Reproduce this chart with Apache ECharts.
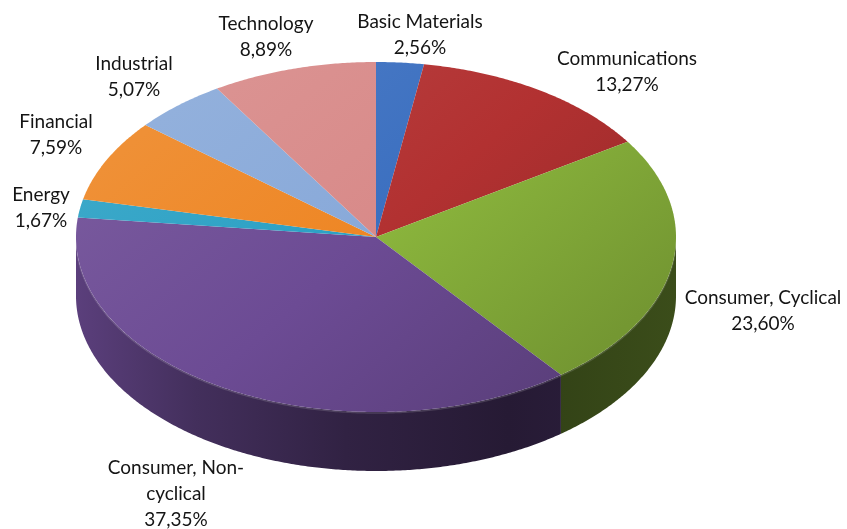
<!DOCTYPE html>
<html><head><meta charset="utf-8">
<script src="https://cdn.jsdelivr.net/npm/echarts@6/dist/echarts.min.js"></script>
<style>html,body{margin:0;padding:0;background:#fff}#c{width:847px;height:529px}</style>
</head><body><div id="c"></div>
<script>
// ---- data ----
const categories = ['Basic Materials','Communications','Consumer, Cyclical','Consumer, Non-cyclical','Energy','Financial','Industrial','Technology'];
const values = [2.56, 13.27, 23.60, 37.35, 1.67, 7.59, 5.07, 8.89];
const labelTexts = ['Basic Materials\n2,56%','Communications\n13,27%','Consumer, Cyclical\n23,60%','Consumer, Non-\ncyclical\n37,35%','Energy\n1,67%','Financial\n7,59%','Industrial\n5,07%','Technology\n8,89%'];
// ---- styles / layout ----
const colors = ['#3b6fc0','#b23131','#8ab43c','#6c4b94','#2aa0c4','#ee8624','#88a9d9','#d88a89'];
const PIE = {cx:376, cy:237, rx:300, ry:175, depth:59};
const labelPos = [[420,35],[627,72],[763,311],[176,494],[41,208],[56,135],[134,77],[266,37]];

function parse(h){h=h.replace('#','');return [0,2,4].map(i=>parseInt(h.substr(i,2),16));}
function toHex(a){return '#'+a.map(v=>Math.max(0,Math.min(255,Math.round(v))).toString(16).padStart(2,'0')).join('');}
function mul(h,f){return toHex(parse(h).map(v=>v*f));}
function lighten(h,t){return toHex(parse(h).map(v=>v+(255-v)*t));}

const total = values.reduce((a,b)=>a+b,0);
const starts = []; {let acc=0; values.forEach(v=>{starts.push(acc/total*Math.PI*2); acc+=v;});}
function pt(t,dy){return [PIE.cx+PIE.rx*Math.sin(t), PIE.cy-PIE.ry*Math.cos(t)+(dy||0)];}
function arc(a,b,dy){const n=Math.max(2,Math.ceil((b-a)/0.008));const p=[];for(let k=0;k<=n;k++)p.push(pt(a+(b-a)*k/n,dy));return p;}

function sideItem(params, api){
  const i=params.dataIndex, v=api.value(0);
  const a1=starts[i], a2=a1+v/total*Math.PI*2;
  const s=Math.max(a1,Math.PI/2), e=Math.min(a2,Math.PI*1.5);
  if(e<=s) return null;
  const top=arc(s,e,0), bot=arc(s,e,PIE.depth).reverse();
  const c=colors[i];
  return {type:'group', children:[
    {type:'polygon', shape:{points:top.concat(bot)},
     style:{fill:new echarts.graphic.LinearGradient(PIE.cx-PIE.rx,0,PIE.cx+PIE.rx,0,[
      {offset:0,color:mul(c,0.84)},{offset:0.2,color:mul(c,0.62)},{offset:0.45,color:mul(c,0.45)},{offset:0.72,color:mul(c,0.35)},{offset:1,color:mul(c,0.43)}],true),
      stroke:null}},
    {type:'polyline', shape:{points:arc(s,e,1)}, style:{stroke:'rgba(255,255,255,0.14)', lineWidth:1.5, fill:null}}
  ]};
}
function topItem(params, api){
  const i=params.dataIndex, v=api.value(0);
  const a1=starts[i], a2=a1+v/total*Math.PI*2;
  const pts=[[PIE.cx,PIE.cy]].concat(arc(a1,a2,0));
  const c=colors[i];
  return {type:'group', children:[
    {type:'polygon', shape:{points:pts},
     style:{fill:new echarts.graphic.LinearGradient(PIE.cx-PIE.rx*0.5,PIE.cy-PIE.ry,PIE.cx+PIE.rx*0.5,PIE.cy+PIE.ry,[
       {offset:0,color:lighten(c,0.08)},{offset:0.5,color:c},{offset:1,color:mul(c,0.84)}],true),
       stroke:null}},
    {type:'text', x:labelPos[i][0], y:labelPos[i][1],
     style:{text:labelTexts[i], align:'center', verticalAlign:'middle', fontFamily:'Lato', fontSize:19, lineHeight:26, fill:'#141414'}}
  ]};
}

const chart = echarts.init(document.getElementById('c'), null, {renderer:'canvas'});
chart.setOption({
  animation:false,
  backgroundColor:'#ffffff',
  series:[
    {type:'custom', name:'side', coordinateSystem:'none', z:1, data:values.map(v=>[v]), renderItem:sideItem},
    {type:'custom', name:'top', coordinateSystem:'none', z:2, data:values.map((v,i)=>({name:categories[i], value:[v]})), renderItem:topItem}
  ]
});
</script></body></html>
